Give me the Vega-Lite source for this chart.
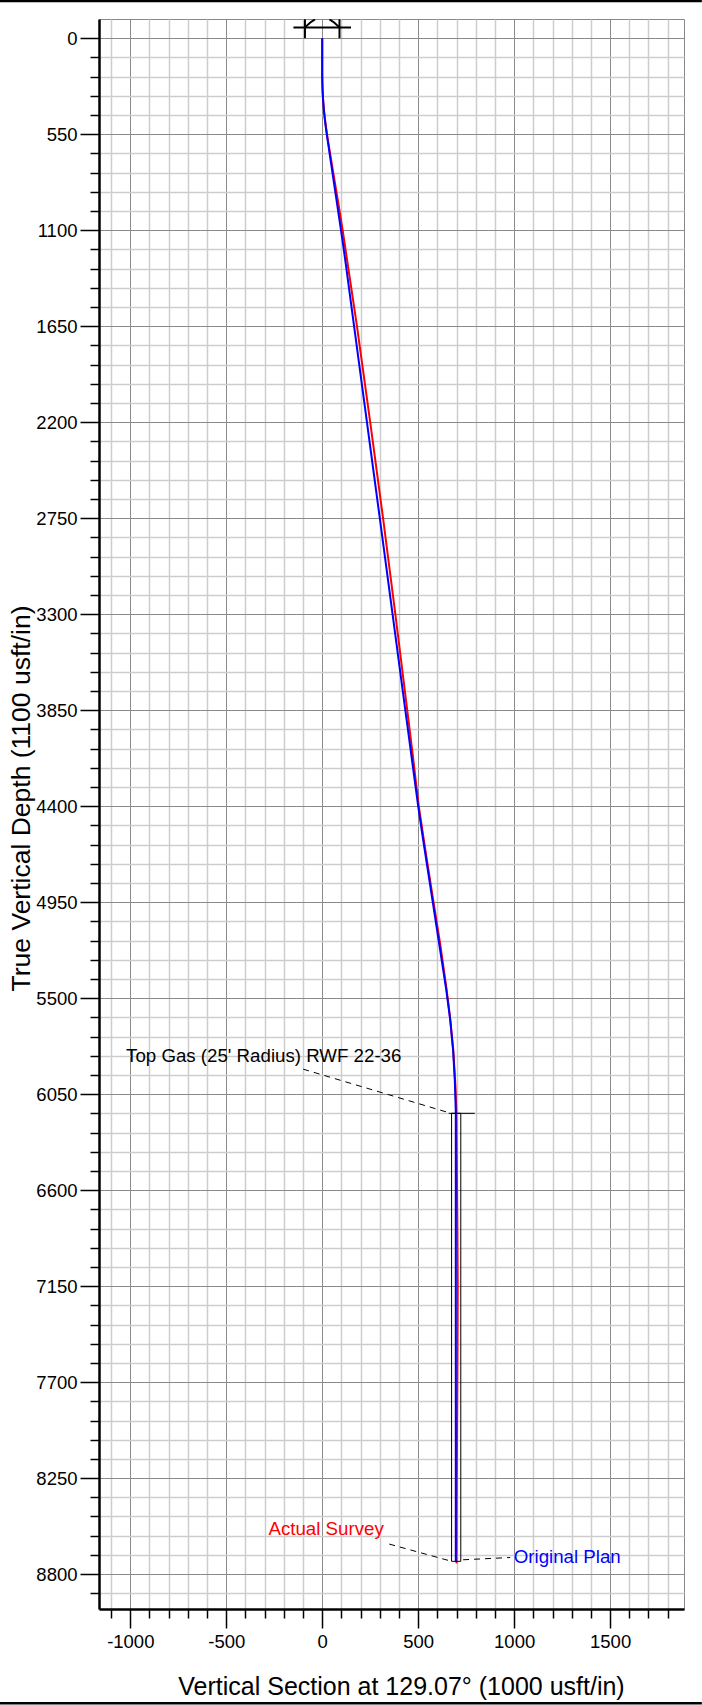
{
  "$schema": "https://vega.github.io/schema/vega-lite/v6.json",
  "autosize": {"type": "none"},
  "padding": {"left": 99, "top": 19, "right": 18, "bottom": 96},
  "width": 585,
  "height": 1590,
  "background": "white",
  "config": {
    "font": "Liberation Sans",
    "view": {"stroke": "#888888", "strokeWidth": 1}
  },
  "datasets": {
    "plan": [
      {"vs": 0, "tvd": 0}, {"vs": 0, "tvd": 200}, {"vs": 0.5, "tvd": 250}, {"vs": 1.9, "tvd": 300},
      {"vs": 4.3, "tvd": 350}, {"vs": 7.7, "tvd": 400}, {"vs": 12, "tvd": 450}, {"vs": 17.4, "tvd": 500},
      {"vs": 23.6, "tvd": 550}, {"vs": 30.4, "tvd": 600}, {"vs": 43.9, "tvd": 700}, {"vs": 57.4, "tvd": 800},
      {"vs": 70.9, "tvd": 900}, {"vs": 84.4, "tvd": 1000}, {"vs": 97.9, "tvd": 1100}, {"vs": 111, "tvd": 1200},
      {"vs": 123.6, "tvd": 1300}, {"vs": 166, "tvd": 1650}, {"vs": 233, "tvd": 2200}, {"vs": 300, "tvd": 2750},
      {"vs": 366.5, "tvd": 3300}, {"vs": 433, "tvd": 3850}, {"vs": 500, "tvd": 4400}, {"vs": 520, "tvd": 4550},
      {"vs": 541, "tvd": 4700}, {"vs": 576, "tvd": 4950}, {"vs": 611, "tvd": 5200}, {"vs": 646, "tvd": 5450},
      {"vs": 667, "tvd": 5624}, {"vs": 682, "tvd": 5799}, {"vs": 691, "tvd": 5975}, {"vs": 696, "tvd": 6150},
      {"vs": 696, "tvd": 8727}
    ],
    "actual": [
      {"vs": 0, "tvd": 0}, {"vs": 0, "tvd": 200}, {"vs": 0.5, "tvd": 250}, {"vs": 2, "tvd": 300},
      {"vs": 4.5, "tvd": 350}, {"vs": 8.2, "tvd": 400}, {"vs": 12.9, "tvd": 450}, {"vs": 18.6, "tvd": 500},
      {"vs": 25, "tvd": 550}, {"vs": 32, "tvd": 600}, {"vs": 47, "tvd": 700}, {"vs": 62, "tvd": 800},
      {"vs": 77, "tvd": 900}, {"vs": 92, "tvd": 1000}, {"vs": 106.5, "tvd": 1100}, {"vs": 181, "tvd": 1650},
      {"vs": 250, "tvd": 2200}, {"vs": 317, "tvd": 2750}, {"vs": 381, "tvd": 3300}, {"vs": 443, "tvd": 3850},
      {"vs": 471, "tvd": 4100}, {"vs": 503, "tvd": 4400}, {"vs": 544, "tvd": 4700}, {"vs": 580, "tvd": 4950},
      {"vs": 616, "tvd": 5200}, {"vs": 648, "tvd": 5450}, {"vs": 665, "tvd": 5600}, {"vs": 683, "tvd": 5800},
      {"vs": 694, "tvd": 6000}, {"vs": 699, "tvd": 6150}, {"vs": 701, "tvd": 6400}, {"vs": 704, "tvd": 6800},
      {"vs": 706, "tvd": 7150}, {"vs": 705, "tvd": 7500}, {"vs": 703, "tvd": 7900}, {"vs": 701, "tvd": 8300},
      {"vs": 700, "tvd": 8740}
    ],
    "target": [{"x1": 674, "x2": 722, "y1": 6160, "y2": 8727}],
    "leaders": [
      {"x1": -99, "y1": 5907, "x2": 659, "y2": 6156},
      {"x1": 349, "y1": 8628, "x2": 675, "y2": 8727},
      {"x1": 734, "y1": 8718, "x2": 979, "y2": 8705}
    ],
    "targetTop": [{"x1": 659, "x2": 795, "y1": 6160}],
    "frame": [{"x1": -1679, "x2": 1978, "y1": -213}, {"x1": -1679, "x2": 1978, "y1": 9540}],
    "wellhead": [
      {"seg": "h", "order": 1, "vs": -150, "tvd": -62}, {"seg": "h", "order": 2, "vs": 150, "tvd": -62},
      {"seg": "l", "order": 1, "vs": -90, "tvd": 0}, {"seg": "l", "order": 2, "vs": -90, "tvd": -108},
      {"seg": "r", "order": 1, "vs": 90, "tvd": 0}, {"seg": "r", "order": 2, "vs": 90, "tvd": -108},
      {"seg": "la", "order": 1, "vs": -90, "tvd": -62}, {"seg": "la", "order": 2, "vs": -62, "tvd": -90}, {"seg": "la", "order": 3, "vs": -38, "tvd": -108},
      {"seg": "ra", "order": 1, "vs": 90, "tvd": -62}, {"seg": "ra", "order": 2, "vs": 62, "tvd": -90}, {"seg": "ra", "order": 3, "vs": 38, "tvd": -108}
    ],
    "labels": [
      {"text": "Top Gas (25' Radius) RWF 22-36", "vs": -1022, "tvd": 5865, "color": "black"},
      {"text": "Actual Survey", "vs": -280, "tvd": 8575, "color": "#ff0000"},
      {"text": "Original Plan", "vs": 998, "tvd": 8737, "color": "#0000ff"}
    ]
  },
  "layer": [
    {
      "data": {"name": "actual"},
      "mark": {"type": "line", "color": "#ff0000", "strokeWidth": 2, "clip": true},
      "encoding": {
        "x": {"field": "vs", "type": "quantitative",
          "scale": {"domain": [-1163, 1885], "nice": false, "zero": false},
          "axis": {
            "title": "Vertical Section at 129.07° (1000 usft/in)",
            "values": [-1100,-1000,-900,-800,-700,-600,-500,-400,-300,-200,-100,0,100,200,300,400,500,600,700,800,900,1000,1100,1200,1300,1400,1500,1600,1700,1800],
            "tickCount": 500,
            "labelExpr": "datum.value % 500 === 0 ? '' + datum.value : ''",
            "labelFont": "Liberation Sans", "labelFontSize": 18.5, "labelColor": "black",
            "labelPadding": 4, "labelFlush": false, "labelOverlap": false,
            "domainColor": "black", "domainWidth": 2.5,
            "tickColor": "black", "tickWidth": 1.5,
            "tickSize": {"condition": {"test": "datum.value % 500 === 0", "value": 19}, "value": 9},
            "grid": true,
            "gridColor": {"condition": {"test": "datum.value % 500 === 0", "value": "#8a8a8a"}, "value": "#cdcdcd"},
            "gridWidth": {"condition": {"test": "datum.value % 500 === 0", "value": 1}, "value": 1.5},
            "titleFont": "Liberation Sans", "titleFontSize": 25, "titleFontWeight": "normal", "titleColor": "black",
            "titleX": 302, "titleY": 85, "titleBaseline": "alphabetic"
          }
        },
        "y": {"field": "tvd", "type": "quantitative",
          "scale": {"domain": [-110, 9000], "nice": false, "zero": false, "reverse": true},
          "axis": {
            "title": "True Vertical Depth (1100 usft/in)",
            "values": [0,110,220,330,440,550,660,770,880,990,1100,1210,1320,1430,1540,1650,1760,1870,1980,2090,2200,2310,2420,2530,2640,2750,2860,2970,3080,3190,3300,3410,3520,3630,3740,3850,3960,4070,4180,4290,4400,4510,4620,4730,4840,4950,5060,5170,5280,5390,5500,5610,5720,5830,5940,6050,6160,6270,6380,6490,6600,6710,6820,6930,7040,7150,7260,7370,7480,7590,7700,7810,7920,8030,8140,8250,8360,8470,8580,8690,8800,8910],
            "tickCount": 500,
            "labelExpr": "datum.value % 550 === 0 ? '' + datum.value : ''",
            "labelFont": "Liberation Sans", "labelFontSize": 18.5, "labelColor": "black",
            "labelPadding": 3, "labelFlush": false, "labelOverlap": false,
            "domainColor": "black", "domainWidth": 2.5,
            "tickColor": "black", "tickWidth": 1.5,
            "tickSize": {"condition": {"test": "datum.value % 550 === 0", "value": 19}, "value": 9},
            "grid": true,
            "gridColor": {"condition": {"test": "datum.value % 550 === 0", "value": "#8a8a8a"}, "value": "#cdcdcd"},
            "gridWidth": {"condition": {"test": "datum.value % 550 === 0", "value": 1}, "value": 1.5},
            "titleFont": "Liberation Sans", "titleFontSize": 26.5, "titleFontWeight": "normal", "titleColor": "black",
            "titleX": -70, "titleY": 779, "titleBaseline": "alphabetic", "titleAngle": -90
          }
        },
        "order": {"field": "tvd", "type": "quantitative"}
      }
    },
    {
      "data": {"name": "plan"},
      "mark": {"type": "line", "color": "#0000ff", "strokeWidth": 2, "clip": true},
      "encoding": {
        "x": {"field": "vs", "type": "quantitative"},
        "y": {"field": "tvd", "type": "quantitative"},
        "order": {"field": "tvd", "type": "quantitative"}
      }
    },
    {
      "data": {"name": "target"},
      "mark": {"type": "rect", "fill": null, "fillOpacity": 0, "stroke": "black", "strokeWidth": 1},
      "encoding": {
        "x": {"field": "x1", "type": "quantitative"},
        "x2": {"field": "x2"},
        "y": {"field": "y1", "type": "quantitative"},
        "y2": {"field": "y2"}
      }
    },
    {
      "data": {"name": "targetTop"},
      "mark": {"type": "rule", "color": "black", "strokeWidth": 1},
      "encoding": {
        "x": {"field": "x1", "type": "quantitative"},
        "x2": {"field": "x2"},
        "y": {"field": "y1", "type": "quantitative"}
      }
    },
    {
      "data": {"name": "frame"},
      "mark": {"type": "rule", "color": "black", "strokeWidth": 2.5, "clip": false},
      "encoding": {
        "x": {"field": "x1", "type": "quantitative"},
        "x2": {"field": "x2"},
        "y": {"field": "y1", "type": "quantitative"}
      }
    },
    {
      "data": {"name": "leaders"},
      "mark": {"type": "rule", "color": "black", "strokeWidth": 1, "strokeDash": [6, 5]},
      "encoding": {
        "x": {"field": "x1", "type": "quantitative"},
        "x2": {"field": "x2"},
        "y": {"field": "y1", "type": "quantitative"},
        "y2": {"field": "y2"}
      }
    },
    {
      "data": {"name": "wellhead"},
      "mark": {"type": "line", "color": "black", "strokeWidth": 2, "clip": true},
      "encoding": {
        "x": {"field": "vs", "type": "quantitative"},
        "y": {"field": "tvd", "type": "quantitative"},
        "detail": {"field": "seg"},
        "order": {"field": "order", "type": "quantitative"}
      }
    },
    {
      "data": {"name": "labels"},
      "mark": {"type": "text", "align": "left", "baseline": "alphabetic", "font": "Liberation Sans", "fontSize": 18.7},
      "encoding": {
        "x": {"field": "vs", "type": "quantitative"},
        "y": {"field": "tvd", "type": "quantitative"},
        "text": {"field": "text"},
        "color": {"field": "color", "type": "nominal", "scale": null}
      }
    }
  ]
}
